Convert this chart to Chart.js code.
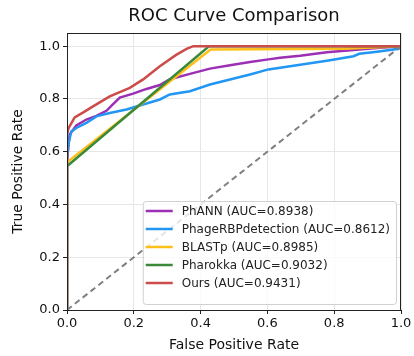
<!DOCTYPE html>
<html lang="en">
<head>
  <meta charset="UTF-8">
  <title>ROC Curve Comparison</title>
  <script src="https://cdn.jsdelivr.net/npm/chart.js"></script>
  <style>
    html, body { margin: 0; padding: 0; background: #fff; }
    #wrap { width: 414px; height: 356px; }
  </style>
</head>
<body>
  <div id="wrap"><canvas id="chart" width="414" height="356"></canvas></div>

  <script>
    // ROC points
    const phannFpr = [0, 0, 0.004, 0.008, 0.028, 0.058, 0.088, 0.118, 0.138, 0.158, 0.198, 0.238, 0.278, 0.308, 0.368, 0.428, 0.488, 0.548, 0.603, 0.638, 0.698, 0.778, 0.858, 0.928, 1.0];
    const phannTpr = [0, 0.56, 0.62, 0.665, 0.7, 0.722, 0.736, 0.755, 0.78, 0.805, 0.82, 0.838, 0.853, 0.875, 0.895, 0.915, 0.928, 0.94, 0.95, 0.956, 0.964, 0.977, 0.986, 0.993, 1.0];

    const rbpFpr = [0, 0, 0.006, 0.013, 0.028, 0.058, 0.088, 0.128, 0.178, 0.228, 0.278, 0.308, 0.368, 0.428, 0.488, 0.548, 0.603, 0.638, 0.698, 0.778, 0.858, 0.875, 0.928, 0.993, 1.0];
    const rbpTpr = [0, 0.58, 0.64, 0.677, 0.69, 0.709, 0.734, 0.747, 0.76, 0.779, 0.798, 0.817, 0.829, 0.855, 0.874, 0.893, 0.912, 0.918, 0.93, 0.945, 0.962, 0.971, 0.979, 0.99, 1.0];

    const blastFpr = [0, 0, 0.43, 0.83, 1.0];
    const blastTpr = [0, 0.56, 0.987, 0.99, 1.0];

    const pharokkaFpr = [0, 0, 0.425, 1.0];
    const pharokkaTpr = [0, 0.545, 1.0, 1.0];

    const oursFpr = [0, 0, 0.005, 0.023, 0.05, 0.078, 0.128, 0.188, 0.228, 0.278, 0.328, 0.358, 0.378, 1.0];
    const oursTpr = [0, 0.665, 0.69, 0.73, 0.75, 0.772, 0.81, 0.842, 0.874, 0.924, 0.968, 0.99, 1.0, 1.0];

    const chanceFpr = [0, 1];
    const chanceTpr = [0, 1];

    const labels = [
      "PhANN (AUC=0.8938)",
      "PhageRBPdetection (AUC=0.8612)",
      "BLASTp (AUC=0.8985)",
      "Pharokka (AUC=0.9032)",
      "Ours (AUC=0.9431)"
    ];
    const colors = ["#9c2fb5", "#2196f3", "#ffbf1a", "#3a8a3a", "#cc4b4b"];

    const xTicks = [0, 0.2, 0.4, 0.6, 0.8, 1.0];
    const yTicks = [0, 0.2, 0.4, 0.6, 0.8, 1.0];

    const pts = (xs, ys) => xs.map((x, i) => ({ x, y: ys[i] }));
    const curves = [
      pts(phannFpr, phannTpr),
      pts(rbpFpr, rbpTpr),
      pts(blastFpr, blastTpr),
      pts(pharokkaFpr, pharokkaTpr),
      pts(oursFpr, oursTpr)
    ];

    const datasets = curves.map((data, i) => ({
      label: labels[i],
      data,
      borderColor: colors[i],
      borderWidth: 2.5,
      pointRadius: 0,
      tension: 0,
      order: 5 - i
    }));
    datasets.push({
      label: "",
      data: pts(chanceFpr, chanceTpr),
      borderColor: "#808080",
      borderWidth: 2,
      borderDash: [6, 4],
      pointRadius: 0,
      order: 0
    });

    // box around the plot + legend inside the lower right corner
    const framePlugin = {
      id: "frame",
      afterDatasetsDraw(chart) {
        const { ctx, chartArea: a } = chart;
        ctx.save();
        ctx.strokeStyle = "#222";
        ctx.lineWidth = 1;
        ctx.strokeRect(a.left + 0.5, a.top + 0.5, a.right - a.left - 1, a.bottom - a.top);

        ctx.font = "12px 'DejaVu Sans'";
        const maxW = Math.max(...labels.map((t) => ctx.measureText(t).width));
        const rowH = 18;
        const w = 39 + maxW + 6;
        const h = 20 + rowH * (labels.length - 1) + 11;
        const x0 = a.right - 5 - w;
        const y0 = a.bottom - 6 - h;

        ctx.beginPath();
        ctx.roundRect(x0 + 0.5, y0 + 0.5, w, h, 3);
        ctx.fillStyle = "rgba(255,255,255,0.8)";
        ctx.fill();
        ctx.strokeStyle = "#d0d0d0";
        ctx.stroke();

        ctx.textBaseline = "middle";
        labels.forEach((t, i) => {
          const cy = y0 + 10 + i * rowH;
          ctx.beginPath();
          ctx.moveTo(x0 + 3, cy);
          ctx.lineTo(x0 + 30, cy);
          ctx.strokeStyle = colors[i];
          ctx.lineWidth = 2.5;
          ctx.stroke();
          ctx.fillStyle = "#222";
          ctx.fillText(t, x0 + 39, cy + 1);
        });
        ctx.restore();
      }
    };

    const tickFont = { family: "'DejaVu Sans'", size: 13 };

    new Chart(document.getElementById("chart"), {
      type: "line",
      data: { datasets },
      plugins: [framePlugin],
      options: {
        responsive: false,
        animation: false,
        layout: { padding: { left: 0, right: 13, top: 0, bottom: 0 } },
        plugins: {
          legend: { display: false },
          tooltip: { enabled: false },
          title: {
            display: true,
            text: "ROC Curve Comparison",
            fullSize: false,
            color: "#111",
            font: { family: "'DejaVu Sans'", size: 18, weight: "normal" },
            padding: { top: 6, bottom: 5.4 }
          }
        },
        scales: {
          x: {
            type: "linear",
            min: 0,
            max: 1,
            afterBuildTicks: (s) => { s.ticks = xTicks.map((v) => ({ value: v })); },
            afterFit: (s) => { s.height = 46; },
            ticks: { font: tickFont, color: "#111", padding: 2, maxRotation: 0, callback: (v) => v.toFixed(1) },
            grid: { color: "#e6e6e6", lineWidth: 1, tickLength: 4, tickColor: "#222" },
            border: { color: "#222", width: 1 },
            title: {
              display: true,
              text: "False Positive Rate",
              color: "#111",
              font: { family: "'DejaVu Sans'", size: 14 },
              padding: { top: 0, bottom: 2 }
            }
          },
          y: {
            type: "linear",
            min: 0,
            max: 1.05,
            afterBuildTicks: (s) => { s.ticks = yTicks.map((v) => ({ value: v })); },
            afterFit: (s) => { s.width = 67; },
            ticks: { font: tickFont, color: "#111", padding: 3, callback: (v) => v.toFixed(1) },
            grid: { color: "#e6e6e6", lineWidth: 1, tickLength: 4, tickColor: "#222" },
            border: { color: "#222", width: 1 },
            title: {
              display: true,
              text: "True Positive Rate",
              color: "#111",
              font: { family: "'DejaVu Sans'", size: 14 },
              padding: { top: 10, bottom: 0 }
            }
          }
        }
      }
    });
  </script>
</body>
</html>
